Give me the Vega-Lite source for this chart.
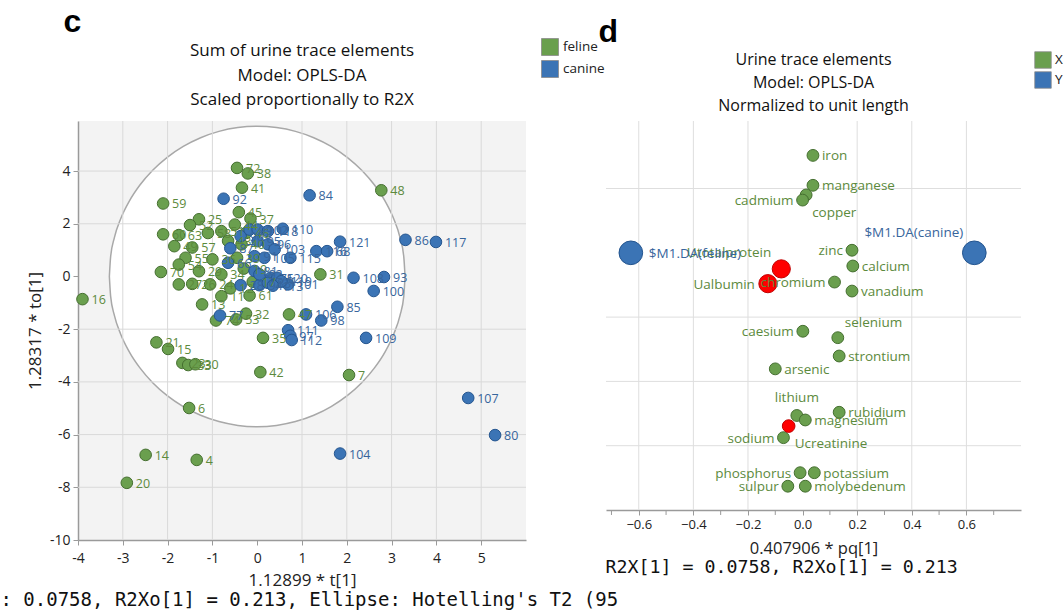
{
  "$schema": "https://vega.github.io/schema/vega-lite/v6.json",
  "padding": {"left": 0, "top": 6, "right": 0, "bottom": 0},
  "spacing": -7,
  "title": {"text": ": 0.0758, R2Xo[1] = 0.213, Ellipse: Hotelling's T2 (95", "orient": "bottom", "anchor": "start", "dx": -26, "offset": 3, "font": "DejaVu Sans Mono", "fontSize": 19, "fontWeight": "normal", "color": "#111"},
  "config": {
    "font": "Open Sans",
    "view": {"stroke": null},
    "axis": {"labelFont": "Open Sans", "titleFont": "Open Sans", "labelColor": "#222", "titleColor": "#222", "titleFontWeight": "normal", "grid": false},
    "legend": {"labelFont": "Open Sans", "labelColor": "#222"},
    "title": {"font": "Open Sans", "fontWeight": "normal", "color": "#111"}
  },
  "resolve": {"scale": {"color": "independent", "x": "independent", "y": "independent"}, "legend": {"color": "independent"}},
  "datasets": {
    "scores": [
      {"id": "72", "group": "feline", "x": -0.45, "y": 4.12},
      {"id": "38", "group": "feline", "x": -0.21, "y": 3.91},
      {"id": "41", "group": "feline", "x": -0.34, "y": 3.37},
      {"id": "59", "group": "feline", "x": -2.1, "y": 2.77},
      {"id": "45", "group": "feline", "x": -0.41, "y": 2.44},
      {"id": "48", "group": "feline", "x": 2.77, "y": 3.27},
      {"id": "31", "group": "feline", "x": 1.41, "y": 0.08},
      {"id": "47", "group": "feline", "x": 0.71, "y": -1.44},
      {"id": "35", "group": "feline", "x": 0.13, "y": -2.33},
      {"id": "7", "group": "feline", "x": 2.05, "y": -3.74},
      {"id": "42", "group": "feline", "x": 0.07, "y": -3.63},
      {"id": "16", "group": "feline", "x": -3.9, "y": -0.86},
      {"id": "13", "group": "feline", "x": -1.23, "y": -1.06},
      {"id": "74", "group": "feline", "x": -0.92, "y": -1.67},
      {"id": "53", "group": "feline", "x": -0.47, "y": -1.63},
      {"id": "32", "group": "feline", "x": -0.25, "y": -1.41},
      {"id": "21", "group": "feline", "x": -2.25, "y": -2.5},
      {"id": "15", "group": "feline", "x": -1.99, "y": -2.75},
      {"id": "23", "group": "feline", "x": -1.67, "y": -3.28},
      {"id": "33", "group": "feline", "x": -1.54, "y": -3.36},
      {"id": "30", "group": "feline", "x": -1.38, "y": -3.33},
      {"id": "6", "group": "feline", "x": -1.52, "y": -4.99},
      {"id": "14", "group": "feline", "x": -2.49, "y": -6.77},
      {"id": "4", "group": "feline", "x": -1.35, "y": -6.96},
      {"id": "20", "group": "feline", "x": -2.91, "y": -7.83},
      {"id": "61", "group": "feline", "x": -0.17, "y": -0.72},
      {"id": "60", "group": "feline", "x": -2.1, "y": 1.6},
      {"id": "63", "group": "feline", "x": -1.75, "y": 1.57},
      {"id": "25", "group": "feline", "x": -1.3, "y": 2.17},
      {"id": "57", "group": "feline", "x": -1.45, "y": 1.1},
      {"id": "55", "group": "feline", "x": -1.6, "y": 0.71},
      {"id": "70", "group": "feline", "x": -2.15, "y": 0.17},
      {"id": "27", "group": "feline", "x": -1.75, "y": -0.3},
      {"id": "26", "group": "feline", "x": -1.45, "y": -0.28},
      {"id": "29", "group": "feline", "x": -1.3, "y": 0.2},
      {"id": "24", "group": "feline", "x": -1.05, "y": -0.3},
      {"id": "36", "group": "feline", "x": -1.0, "y": 0.65},
      {"id": "34", "group": "feline", "x": -0.8, "y": 0.08},
      {"id": "44", "group": "feline", "x": -0.5, "y": 1.97},
      {"id": "51", "group": "feline", "x": -0.8, "y": 1.72},
      {"id": "58", "group": "feline", "x": -1.1, "y": 1.65},
      {"id": "40", "group": "feline", "x": -0.35, "y": 1.22},
      {"id": "39", "group": "feline", "x": -0.45, "y": 0.71},
      {"id": "52", "group": "feline", "x": -1.5, "y": 1.95},
      {"id": "43", "group": "feline", "x": -0.65, "y": 1.35},
      {"id": "19", "group": "feline", "x": -0.3, "y": 0.3},
      {"id": "12", "group": "feline", "x": -0.6, "y": -0.45},
      {"id": "46", "group": "feline", "x": -0.25, "y": 1.65},
      {"id": "49", "group": "feline", "x": -1.85, "y": 1.15},
      {"id": "11", "group": "feline", "x": -0.8, "y": -0.75},
      {"id": "17", "group": "feline", "x": -0.1, "y": -0.2},
      {"id": "37", "group": "feline", "x": -0.15, "y": 2.2},
      {"id": "54", "group": "feline", "x": -1.75, "y": 0.45},
      {"id": "92", "group": "canine", "x": -0.75, "y": 2.95},
      {"id": "84", "group": "canine", "x": 1.17, "y": 3.08},
      {"id": "86", "group": "canine", "x": 3.31, "y": 1.39},
      {"id": "117", "group": "canine", "x": 3.99, "y": 1.31},
      {"id": "121", "group": "canine", "x": 1.85, "y": 1.32},
      {"id": "116", "group": "canine", "x": 1.32, "y": 0.96},
      {"id": "68", "group": "canine", "x": 1.56, "y": 0.96},
      {"id": "115", "group": "canine", "x": 0.74, "y": 0.71},
      {"id": "110", "group": "canine", "x": 0.57, "y": 1.81},
      {"id": "108", "group": "canine", "x": 2.15, "y": -0.05},
      {"id": "93", "group": "canine", "x": 2.83, "y": -0.02},
      {"id": "100", "group": "canine", "x": 2.6, "y": -0.55},
      {"id": "85", "group": "canine", "x": 1.79, "y": -1.15},
      {"id": "106", "group": "canine", "x": 1.09, "y": -1.44},
      {"id": "98", "group": "canine", "x": 1.43, "y": -1.67},
      {"id": "109", "group": "canine", "x": 2.43, "y": -2.33},
      {"id": "111", "group": "canine", "x": 0.69, "y": -2.04},
      {"id": "97", "group": "canine", "x": 0.74, "y": -2.25},
      {"id": "112", "group": "canine", "x": 0.77, "y": -2.41},
      {"id": "107", "group": "canine", "x": 4.71, "y": -4.61},
      {"id": "80", "group": "canine", "x": 5.31, "y": -6.02},
      {"id": "104", "group": "canine", "x": 1.85, "y": -6.72},
      {"id": "77", "group": "canine", "x": -0.83, "y": -1.48},
      {"id": "28", "group": "canine", "x": -0.37, "y": -0.33},
      {"id": "94", "group": "canine", "x": 0.05, "y": -0.33},
      {"id": "101", "group": "canine", "x": 0.69, "y": -0.3},
      {"id": "75", "group": "canine", "x": 0.3, "y": -0.05},
      {"id": "87", "group": "canine", "x": -0.6, "y": 1.07},
      {"id": "66", "group": "canine", "x": -0.65, "y": 0.52},
      {"id": "90", "group": "canine", "x": -0.37, "y": 1.53},
      {"id": "99", "group": "canine", "x": -0.17, "y": 1.78},
      {"id": "102", "group": "canine", "x": 0.01, "y": 1.78},
      {"id": "118", "group": "canine", "x": 0.24, "y": 1.72},
      {"id": "95", "group": "canine", "x": 0.01, "y": 1.34},
      {"id": "96", "group": "canine", "x": 0.24, "y": 1.22},
      {"id": "103", "group": "canine", "x": 0.39, "y": 1.03},
      {"id": "91", "group": "canine", "x": -0.06, "y": 0.77},
      {"id": "105", "group": "canine", "x": 0.16, "y": 0.71},
      {"id": "81", "group": "canine", "x": -0.06, "y": 0.21},
      {"id": "82", "group": "canine", "x": 0.05, "y": 0.08},
      {"id": "83", "group": "canine", "x": 0.24, "y": -0.24},
      {"id": "120", "group": "canine", "x": 0.45, "y": -0.05},
      {"id": "119", "group": "canine", "x": 0.54, "y": -0.18},
      {"id": "113", "group": "canine", "x": 0.35, "y": -0.35}
    ],
    "loadings": [
      {"name": "iron", "type": "X", "x": 0.038, "y": 0.303},
      {"name": "manganese", "type": "X", "x": 0.038, "y": 0.21},
      {"name": "copper", "type": "X", "x": 0.013, "y": 0.18},
      {"name": "cadmium", "type": "X", "x": 0.0, "y": 0.164},
      {"name": "zinc", "type": "X", "x": 0.181, "y": 0.008},
      {"name": "calcium", "type": "X", "x": 0.184, "y": -0.041},
      {"name": "chromium", "type": "X", "x": 0.117, "y": -0.091},
      {"name": "vanadium", "type": "X", "x": 0.181, "y": -0.119},
      {"name": "caesium", "type": "X", "x": 0.001, "y": -0.244},
      {"name": "selenium", "type": "X", "x": 0.129, "y": -0.264},
      {"name": "strontium", "type": "X", "x": 0.134, "y": -0.321},
      {"name": "arsenic", "type": "X", "x": -0.1, "y": -0.361},
      {"name": "lithium", "type": "X", "x": -0.021, "y": -0.506},
      {"name": "magnesium", "type": "X", "x": 0.01, "y": -0.52},
      {"name": "rubidium", "type": "X", "x": 0.134, "y": -0.496},
      {"name": "sodium", "type": "X", "x": -0.07, "y": -0.575},
      {"name": "phosphorus", "type": "X", "x": -0.009, "y": -0.684},
      {"name": "potassium", "type": "X", "x": 0.043, "y": -0.684},
      {"name": "sulpur", "type": "X", "x": -0.054, "y": -0.726},
      {"name": "molybedenum", "type": "X", "x": 0.01, "y": -0.726},
      {"name": "Utotalprotein", "type": "X", "x": -0.078, "y": -0.05},
      {"name": "Ualbumin", "type": "X", "x": -0.127, "y": -0.096},
      {"name": "Ucreatinine", "type": "X", "x": -0.051, "y": -0.539},
      {"name": "$M1.DA(feline)", "type": "Y", "x": -0.629, "y": 0},
      {"name": "$M1.DA(canine)", "type": "Y", "x": 0.629, "y": 0}
    ]
  },
  "hconcat": [
    {
      "title": {"text": "c", "anchor": "start", "dx": 37, "offset": -1, "font": "Liberation Sans", "fontSize": 32, "fontWeight": "bold", "color": "#000"},
      "resolve": {"scale": {"color": "shared"}, "legend": {"color": "shared"}},
      "vconcat": [
        {
          "width": 448,
          "height": 419,
          "view": {"fill": "#f3f3f3", "stroke": null},
          "title": {"text": ["Sum of urine trace elements", "Model: OPLS-DA", "Scaled proportionally to R2X"], "anchor": "middle", "fontSize": 17, "lineHeight": 24.5, "offset": 11.5},
          "layer": [
            {
              "data": {"values": [
                {"x": -3.3, "y": 0, "y2": 0},
                {"x": -3.272, "y": 0.744, "y2": -0.744},
                {"x": -3.188, "y": 1.475, "y2": -1.475},
                {"x": -3.049, "y": 2.181, "y2": -2.181},
                {"x": -2.858, "y": 2.85, "y2": -2.85},
                {"x": -2.618, "y": 3.47, "y2": -3.47},
                {"x": -2.333, "y": 4.031, "y2": -4.031},
                {"x": -2.009, "y": 4.522, "y2": -4.522},
                {"x": -1.65, "y": 4.936, "y2": -4.936},
                {"x": -1.263, "y": 5.266, "y2": -5.266},
                {"x": -0.854, "y": 5.506, "y2": -5.506},
                {"x": -0.431, "y": 5.651, "y2": -5.651},
                {"x": 0, "y": 5.7, "y2": -5.7},
                {"x": 0.431, "y": 5.651, "y2": -5.651},
                {"x": 0.854, "y": 5.506, "y2": -5.506},
                {"x": 1.263, "y": 5.266, "y2": -5.266},
                {"x": 1.65, "y": 4.936, "y2": -4.936},
                {"x": 2.009, "y": 4.522, "y2": -4.522},
                {"x": 2.333, "y": 4.031, "y2": -4.031},
                {"x": 2.618, "y": 3.47, "y2": -3.47},
                {"x": 2.858, "y": 2.85, "y2": -2.85},
                {"x": 3.049, "y": 2.181, "y2": -2.181},
                {"x": 3.188, "y": 1.475, "y2": -1.475},
                {"x": 3.272, "y": 0.744, "y2": -0.744},
                {"x": 3.3, "y": 0, "y2": 0}
              ]},
              "mark": {"type": "area", "fill": "#ffffff", "stroke": "#a8a8a8", "strokeWidth": 1.5, "interpolate": "monotone"},
              "encoding": {
                "x": {"field": "x", "type": "quantitative", "scale": {"domain": [-4, 6], "nice": false, "zero": false},
                  "axis": {"title": "1.12899 * t[1]", "values": [-4, -3.5, -3, -2.5, -2, -1.5, -1, -0.5, 0, 0.5, 1, 1.5, 2, 2.5, 3, 3.5, 4, 4.5, 5, 5.5],
                    "labelExpr": "datum.value % 1 === 0 ? (datum.value < 0 ? '-' : '') + format(abs(datum.value), 'd') : ''",
                    "domainColor": "#9a9a9a", "domainWidth": 1.5, "tickColor": "#9a9a9a", "tickSize": 5, "labelFontSize": 14, "labelPadding": 6, "labelFlush": false, "labelOverlap": false, "titleFontSize": 17, "titlePadding": 7}},
                "y": {"field": "y", "type": "quantitative", "scale": {"domain": [-10, 5.9], "nice": false, "zero": false},
                  "axis": {"title": "1.28317 * to[1]", "values": [-10, -9, -8, -7, -6, -5, -4, -3, -2, -1, 0, 1, 2, 3, 4, 5],
                    "labelExpr": "datum.value % 2 === 0 ? (datum.value < 0 ? '-' : '') + format(abs(datum.value), 'd') : ''",
                    "domainColor": "#9a9a9a", "domainWidth": 1.5, "tickColor": "#9a9a9a", "tickSize": 5, "labelFontSize": 14, "labelPadding": 3, "labelFlush": false, "labelOverlap": false, "titleFontSize": 17, "titlePadding": 5}},
                "y2": {"field": "y2"}
              }
            },
            {
              "data": {"values": [{"x": -3}, {"x": -2}, {"x": -1}, {"x": 1}, {"x": 2}, {"x": 3}, {"x": 4}, {"x": 5}]},
              "mark": {"type": "rule", "color": "#d9d9d9", "strokeWidth": 1},
              "encoding": {"x": {"field": "x", "type": "quantitative"}}
            },
            {
              "data": {"values": [{"y": -8}, {"y": -6}, {"y": -4}, {"y": -2}, {"y": 2}, {"y": 4}]},
              "mark": {"type": "rule", "color": "#d9d9d9", "strokeWidth": 1},
              "encoding": {"y": {"field": "y", "type": "quantitative"}}
            },
            {
              "mark": {"type": "rule", "color": "#8c8c8c", "strokeWidth": 1.5},
              "encoding": {"x": {"datum": 0, "type": "quantitative"}}
            },
            {
              "mark": {"type": "rule", "color": "#8c8c8c", "strokeWidth": 1.5},
              "encoding": {"y": {"datum": 0, "type": "quantitative"}}
            },
            {
              "data": {"name": "scores"},
              "mark": {"type": "point", "shape": "circle", "filled": true, "size": 135, "opacity": 1, "strokeWidth": 1},
              "encoding": {
                "x": {"field": "x", "type": "quantitative"},
                "y": {"field": "y", "type": "quantitative"},
                "color": {"field": "group", "type": "nominal", "scale": {"domain": ["feline", "canine"], "range": ["#6a9f4e", "#3b74b5"]},
                  "legend": {"orient": "none", "legendX": 463, "legendY": -83, "title": null, "symbolType": "square", "symbolSize": 289, "symbolOpacity": 1, "symbolStrokeWidth": 0.8, "symbolStrokeColor": "#8a8a8a", "labelFontSize": 13.5, "labelOffset": 4, "rowPadding": 0}},
                "stroke": {"condition": {"test": "datum.group === 'feline'", "value": "#456f30"}, "value": "#24558f"}
              }
            },
            {
              "data": {"name": "scores"},
              "mark": {"type": "text", "align": "left", "baseline": "middle", "dx": 9, "dy": 1, "fontSize": 12.5, "font": "Open Sans"},
              "encoding": {
                "x": {"field": "x", "type": "quantitative"},
                "y": {"field": "y", "type": "quantitative"},
                "text": {"field": "id"},
                "color": {"condition": {"test": "datum.group === 'feline'", "value": "#5c8a3c"}, "value": "#37659c"}
              }
            },
            {
              "mark": {"type": "point", "shape": "M -1 -0.45 L 1 0 L -1 0.45 Z", "filled": true, "size": 289, "opacity": 1, "color": "#9a9a9a"},
              "encoding": {"x": {"datum": 5.78, "type": "quantitative"}, "y": {"datum": -10, "type": "quantitative"}}
            },
            {
              "mark": {"type": "point", "shape": "M -0.45 1 L 0 -1 L 0.45 1 Z", "filled": true, "size": 289, "opacity": 1, "color": "#9a9a9a"},
              "encoding": {"x": {"datum": -4, "type": "quantitative"}, "y": {"datum": 5.5, "type": "quantitative"}}
            }
          ]
        }
      ]
    },
    {
      "title": {"text": "d", "anchor": "start", "dx": -7, "offset": 2, "font": "Liberation Sans", "fontSize": 32, "fontWeight": "bold", "color": "#000"},
      "resolve": {"scale": {"color": "shared"}, "legend": {"color": "shared"}},
      "vconcat": [
        {
          "title": {"text": "R2X[1] = 0.0758, R2Xo[1] = 0.213", "orient": "bottom", "anchor": "start", "dx": 0, "offset": 2, "font": "DejaVu Sans Mono", "fontSize": 18.3, "fontWeight": "normal", "color": "#111"},
          "resolve": {"scale": {"color": "shared"}, "legend": {"color": "shared"}},
          "vconcat": [
            {
              "width": 415,
              "height": 389,
              "title": {"text": ["Urine trace elements", "Model: OPLS-DA", "Normalized to unit length"], "anchor": "middle", "fontSize": 16, "lineHeight": 23, "offset": 7},
              "layer": [
                {
                  "data": {"values": [{"x": -0.6}, {"x": -0.4}, {"x": -0.2}, {"x": 0.2}, {"x": 0.4}, {"x": 0.6}]},
                  "mark": {"type": "rule", "color": "#dedede", "strokeWidth": 1},
                  "encoding": {"x": {"field": "x", "type": "quantitative", "scale": {"domain": [-0.72, 0.8], "nice": false, "zero": false},
                    "axis": {"title": "0.407906 * pq[1]", "values": [-0.6, -0.4, -0.2, 0, 0.2, 0.4, 0.6],
                      "domainColor": "#9a9a9a", "domainWidth": 1.5, "tickColor": "#9a9a9a", "tickSize": 5, "labelColor": "#222222", "labelFontSize": 13, "labelPadding": 3, "labelFlush": false, "labelOverlap": false, "titleFontSize": 16.5, "titlePadding": 9}}}
                },
                {
                  "data": {"values": [{"x": -0.7}, {"x": -0.5}, {"x": -0.3}, {"x": -0.1}, {"x": 0.1}, {"x": 0.3}, {"x": 0.5}, {"x": 0.7}]},
                  "mark": {"type": "rule", "color": "#9a9a9a", "strokeWidth": 1},
                  "encoding": {"x": {"field": "x", "type": "quantitative"}, "y": {"datum": -0.8, "type": "quantitative", "axis": null}, "y2": {"datum": -0.8155}}
                },
                {
                  "data": {"values": [{"y": -0.6}, {"y": -0.4}, {"y": -0.2}, {"y": 0.2}]},
                  "mark": {"type": "rule", "color": "#dedede", "strokeWidth": 1},
                  "encoding": {"y": {"field": "y", "type": "quantitative", "scale": {"domain": [-0.8, 0.41], "nice": false, "zero": false}, "axis": null}}
                },
                {
                  "mark": {"type": "rule", "color": "#808080", "strokeWidth": 1.5},
                  "encoding": {"x": {"datum": 0, "type": "quantitative"}}
                },
                {
                  "mark": {"type": "rule", "color": "#808080", "strokeWidth": 1.5},
                  "encoding": {"y": {"datum": 0, "type": "quantitative", "axis": null}}
                },
                {
                  "data": {"name": "loadings"},
                  "transform": [{"filter": {"not": {"field": "name", "oneOf": ["Utotalprotein", "Ualbumin", "Ucreatinine"]}}}],
                  "mark": {"type": "point", "shape": "circle", "filled": true, "opacity": 1, "strokeWidth": 1},
                  "encoding": {
                    "x": {"field": "x", "type": "quantitative"},
                    "y": {"field": "y", "type": "quantitative", "axis": null},
                    "size": {"condition": {"test": "datum.type === 'Y'", "value": 560}, "value": 140},
                    "color": {"field": "type", "type": "nominal", "scale": {"domain": ["X", "Y"], "range": ["#6a9f4e", "#3b74b5"]},
                      "legend": {"orient": "none", "legendX": 428, "legendY": -70, "title": null, "symbolType": "square", "symbolSize": 272, "symbolOpacity": 1, "symbolStrokeWidth": 0.8, "symbolStrokeColor": "#8a8a8a", "labelFontSize": 13.5, "labelOffset": 3, "rowPadding": 0}},
                    "stroke": {"condition": {"test": "datum.type === 'X'", "value": "#456f30"}, "value": "#24558f"}
                  }
                },
                {
                  "data": {"name": "loadings"},
                  "transform": [{"filter": {"field": "name", "oneOf": ["Utotalprotein", "Ualbumin", "Ucreatinine"]}}],
                  "mark": {"type": "point", "shape": "circle", "filled": true, "opacity": 1, "fill": "#ff0000", "stroke": "#c00000", "strokeWidth": 1},
                  "encoding": {
                    "x": {"field": "x", "type": "quantitative"},
                    "y": {"field": "y", "type": "quantitative", "axis": null},
                    "size": {"condition": {"test": "datum.name === 'Ucreatinine'", "value": 160}, "value": 330}
                  }
                },
                {
                  "data": {"name": "loadings"},
                  "transform": [{"filter": {"field": "name", "oneOf": ["iron", "manganese", "calcium", "vanadium", "strontium", "arsenic", "rubidium", "magnesium", "potassium", "molybedenum"]}}],
                  "mark": {"type": "text", "align": "left", "baseline": "middle", "dx": 9, "dy": 1, "fontSize": 13.5, "font": "Open Sans", "color": "#5c8a3c"},
                  "encoding": {"x": {"field": "x", "type": "quantitative"}, "y": {"field": "y", "type": "quantitative", "axis": null}, "text": {"field": "name"}}
                },
                {
                  "data": {"name": "loadings"},
                  "transform": [{"filter": {"field": "name", "oneOf": ["cadmium", "zinc", "chromium", "caesium", "sodium", "phosphorus", "sulpur"]}}],
                  "mark": {"type": "text", "align": "right", "baseline": "middle", "dx": -9, "dy": 1, "fontSize": 13.5, "font": "Open Sans", "color": "#5c8a3c"},
                  "encoding": {"x": {"field": "x", "type": "quantitative"}, "y": {"field": "y", "type": "quantitative", "axis": null}, "text": {"field": "name"}}
                },
                {
                  "data": {"name": "loadings"},
                  "transform": [{"filter": {"field": "name", "oneOf": ["Ualbumin"]}}],
                  "mark": {"type": "text", "align": "right", "baseline": "middle", "dx": -13, "dy": 1, "fontSize": 13.5, "font": "Open Sans", "color": "#5c8a3c"},
                  "encoding": {"x": {"field": "x", "type": "quantitative"}, "y": {"field": "y", "type": "quantitative", "axis": null}, "text": {"field": "name"}}
                },
                {
                  "data": {"name": "loadings"},
                  "transform": [{"filter": {"field": "name", "oneOf": ["copper", "Ucreatinine"]}}],
                  "mark": {"type": "text", "align": "left", "baseline": "middle", "dx": 6, "dy": 18, "fontSize": 13.5, "font": "Open Sans", "color": "#5c8a3c"},
                  "encoding": {"x": {"field": "x", "type": "quantitative"}, "y": {"field": "y", "type": "quantitative", "axis": null}, "text": {"field": "name"}}
                },
                {
                  "data": {"name": "loadings"},
                  "transform": [{"filter": {"field": "name", "oneOf": ["lithium"]}}],
                  "mark": {"type": "text", "align": "center", "baseline": "middle", "dy": -17, "fontSize": 13.5, "font": "Open Sans", "color": "#5c8a3c"},
                  "encoding": {"x": {"field": "x", "type": "quantitative"}, "y": {"field": "y", "type": "quantitative", "axis": null}, "text": {"field": "name"}}
                },
                {
                  "data": {"name": "loadings"},
                  "transform": [{"filter": {"field": "name", "oneOf": ["selenium"]}}],
                  "mark": {"type": "text", "align": "left", "baseline": "middle", "dx": 7, "dy": -15, "fontSize": 13.5, "font": "Open Sans", "color": "#5c8a3c"},
                  "encoding": {"x": {"field": "x", "type": "quantitative"}, "y": {"field": "y", "type": "quantitative", "axis": null}, "text": {"field": "name"}}
                },
                {
                  "data": {"name": "loadings"},
                  "transform": [{"filter": {"field": "name", "oneOf": ["Utotalprotein"]}}],
                  "mark": {"type": "text", "align": "right", "baseline": "middle", "dx": -10, "dy": -16, "fontSize": 13.5, "font": "Open Sans", "color": "#5c8a3c"},
                  "encoding": {"x": {"field": "x", "type": "quantitative"}, "y": {"field": "y", "type": "quantitative", "axis": null}, "text": {"field": "name"}}
                },
                {
                  "data": {"name": "loadings"},
                  "transform": [{"filter": {"field": "name", "oneOf": ["$M1.DA(feline)"]}}],
                  "mark": {"type": "text", "align": "left", "baseline": "middle", "dx": 18, "dy": 1, "fontSize": 13.5, "font": "Open Sans", "color": "#37659c"},
                  "encoding": {"x": {"field": "x", "type": "quantitative"}, "y": {"field": "y", "type": "quantitative", "axis": null}, "text": {"field": "name"}}
                },
                {
                  "data": {"name": "loadings"},
                  "transform": [{"filter": {"field": "name", "oneOf": ["$M1.DA(canine)"]}}],
                  "mark": {"type": "text", "align": "right", "baseline": "middle", "dx": -11, "dy": -20, "fontSize": 13.5, "font": "Open Sans", "color": "#37659c"},
                  "encoding": {"x": {"field": "x", "type": "quantitative"}, "y": {"field": "y", "type": "quantitative", "axis": null}, "text": {"field": "name"}}
                },
                {
                  "mark": {"type": "point", "shape": "M -1 -0.45 L 1 0 L -1 0.45 Z", "filled": true, "size": 289, "opacity": 1, "color": "#9a9a9a"},
                  "encoding": {"x": {"datum": 0.77, "type": "quantitative"}, "y": {"datum": -0.8, "type": "quantitative", "axis": null}}
                }
              ]
            }
          ]
        }
      ]
    }
  ]
}
